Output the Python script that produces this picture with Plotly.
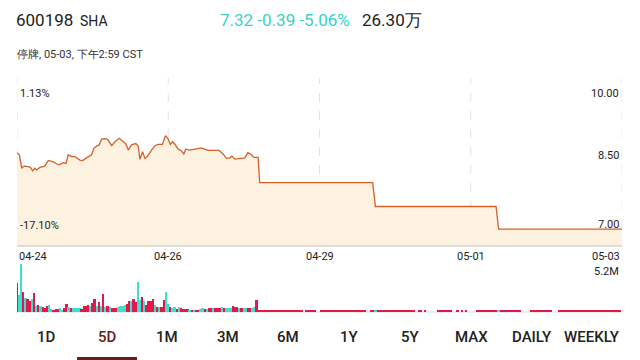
import plotly.graph_objects as go

# ---------------- data ----------------
# x positions are 5-minute bar indices; tick labels every 70 bars
tick_vals = [0, 70, 140, 210, 280]
tick_text = ["04-24", "04-26", "04-29", "05-01", "05-03"]

# intraday price line (active trading part)
line_x = [0, 1.1, 2.2, 3.2, 5.2, 6.3, 7.2, 8.2, 9.1, 10.6, 12.9, 14.5, 16.8, 18.0, 19.6,
          21.4, 22.7, 23.7, 25.3, 26.8, 29.1, 30.4, 32.5, 34.5, 35.6, 36.8, 38.1, 39.1,
          41.1, 42.2, 43.8, 45.3, 47.3, 48.8, 50.4, 51.5, 53.0, 55.0, 56.1, 56.9, 58.1,
          59.2, 60.3, 62.3, 63.8, 65.3, 67.3, 68.7, 70.0, 71.0, 72.0, 73.0, 74.6, 76.1,
          77.2, 78.1, 80.0, 82.3, 84.3, 85.4, 86.9, 88.4, 90.8, 93.5, 95.4, 96.9, 98.5,
          99.5, 100.8, 103.1, 105.4, 106.9, 108.5, 109.6, 111.6]
line_p = [8.65, 8.60, 8.29, 8.34, 8.33, 8.31, 8.23, 8.29, 8.25, 8.31, 8.34, 8.47, 8.44, 8.40, 8.37,
          8.42, 8.40, 8.60, 8.56, 8.56, 8.48, 8.47, 8.54, 8.60, 8.75, 8.80, 8.83, 8.96,
          8.97, 8.94, 8.81, 8.90, 8.98, 8.92, 8.85, 8.71, 8.83, 8.86, 8.80, 8.50, 8.67,
          8.52, 8.56, 8.71, 8.81, 8.84, 8.84, 9.04, 8.96, 8.84, 8.90, 8.85, 8.73, 8.69,
          8.62, 8.73, 8.71, 8.73, 8.74, 8.76, 8.73, 8.70, 8.70, 8.70, 8.62, 8.52, 8.53,
          8.57, 8.50, 8.52, 8.53, 8.65, 8.60, 8.54, 8.54]
# suspended / stepped part
step_x = [112.3, 164.6, 165.9, 221.7, 222.9, 280]
step_p = [7.96, 7.96, 7.41, 7.41, 6.89, 6.89]

# volume (millions) for active bars, index 0..111, and side (t=teal, r=red)
vol_active = [2.9, 1.7, 4.8, 2.0, 1.4, 1.3, 1.1, 1.3, 1.9, 0.6, 0.7, 0.6, 0.5, 0.45, 0.6, 0.7,
              0.35, 0.25, 0.35, 0.35, 0.4, 0.25, 0.4, 0.85,
              0.55, 0.45, 0.4, 0.4, 0.4, 0.4, 0.35, 0.6, 0.6, 0.7, 0.6, 0.9, 1.3, 0.6, 1.0, 0.6,
              1.8,
              0.55, 0.6, 0.5, 0.45, 0.4, 0.4, 0.55, 0.6, 0.6, 0.7, 0.85, 1.1, 1.1, 1.3, 1.0,
              3.0,
              1.2, 1.5, 1.1, 0.7, 1.1, 1.1, 1.3, 0.7, 0.55, 0.5, 0.5, 1.2,
              2.0,
              0.8, 0.5, 0.4, 0.5, 0.35, 0.5, 0.4, 0.3, 0.3, 0.3, 0.2, 0.2, 0.2, 0.2, 0.15, 0.3,
              0.4, 0.35, 0.35, 0.4, 0.4, 0.4, 0.4, 0.4, 0.4, 0.5, 0.4, 0.45, 0.4, 0.45, 0.6,
              0.5, 0.5, 0.4, 0.4, 0.4, 0.45, 0.4, 0.4, 0.4, 0.55,
              1.2]
vol_side = ("rttrtrrtrtrtrrrt" "trrrttrr"
            "trttttrrrrtrrtrt"
            "r"
            "trtrrrttttrrtrr"
            "t"
            "trtrrrrtrtrr"
            "t"
            "trttrtrrrrtrtrrttrtrrtrrrtrtttrrrtrttrrtt"
            "r")
# tiny volume during suspension: runs of bar indices that show a dot
tail_runs = [(112, 132), (134, 138), (141, 161), (164, 165), (167, 184), (186, 187), (189, 189),
             (195, 201), (204, 204), (206, 206), (208, 208), (213, 222), (224, 233),
             (238, 247), (251, 279)]
tail_teal = [166, 223]
tail_vol = 0.12

TEAL = "#3ddfd2"
RED = "#e3184a"
LINE = "#d65f2c"
FILL = "#fdf2df"
DARK = "#222222"

# ---------------- build ----------------
W, H = 640, 360
def ydom(top_px, bot_px):
    return [(H - bot_px) / H, (H - top_px) / H]

vx, vy, vc = [], [], []
for i, (v, s) in enumerate(zip(vol_active, vol_side)):
    vx.append(i); vy.append(v); vc.append(TEAL if s == "t" else RED)
for a, b in tail_runs:
    for i in range(a, b + 1):
        vx.append(i); vy.append(tail_vol); vc.append(RED)
for i in tail_teal:
    vx.append(i); vy.append(tail_vol); vc.append(TEAL)

fig = go.Figure()
fig.add_trace(go.Scatter(x=line_x + step_x, y=line_p + step_p, mode="lines",
                         line=dict(color=LINE, width=1.3, shape="linear"),
                         fill="tozeroy", fillcolor=FILL, hoverinfo="skip",
                         xaxis="x", yaxis="y"))
fig.add_trace(go.Bar(x=vx, y=vy, marker=dict(color=vc, line=dict(width=0)), width=0.8,
                     xaxis="x2", yaxis="y2", hoverinfo="skip"))

xdom = [17 / W, 622 / W]
fig.update_layout(
    width=W, height=H, margin=dict(l=0, r=0, t=0, b=0),
    paper_bgcolor="white", plot_bgcolor="rgba(0,0,0,0)", showlegend=False,
    font=dict(family="Roboto", color=DARK),
    xaxis=dict(domain=xdom, range=[0, 280], showticklabels=False, showgrid=False,
               zeroline=False, showline=False, fixedrange=True),
    yaxis=dict(domain=ydom(78, 246), range=[6.5, 10.369], showticklabels=False,
               showgrid=False, zeroline=False, showline=False),
    xaxis2=dict(domain=xdom, range=[0, 280], showticklabels=False, showgrid=False,
                zeroline=False, showline=False, anchor="y2"),
    yaxis2=dict(domain=ydom(262, 312), range=[0, 5.0], showticklabels=False,
                showgrid=False, zeroline=False, showline=False, anchor="x2"),
    bargap=0,
)

shapes = []
for tv in tick_vals:
    shapes.append(dict(type="line", xref="x", yref="paper", x0=tv, x1=tv,
                       y0=ydom(78, 246)[0], y1=ydom(78, 246)[1],
                       line=dict(color="#e8e2da", width=1, dash="dash"), layer="below"))
shapes.append(dict(type="line", xref="paper", yref="paper", x0=xdom[0], x1=xdom[1],
                   y0=(H - 246) / H, y1=(H - 246) / H, line=dict(color="#dcdcdc", width=2)))
shapes.append(dict(type="line", xref="paper", yref="paper", x0=xdom[0], x1=xdom[1],
                   y0=(H - 312) / H, y1=(H - 312) / H, line=dict(color="#e6e6e6", width=1.5),
                   layer="below"))
# tab underline
shapes.append(dict(type="line", xref="paper", yref="paper", x0=77 / W, x1=137 / W,
                   y0=1.5 / H, y1=1.5 / H, line=dict(color="#6b1c1c", width=3)))
fig.update_layout(shapes=shapes)

ann = []
def txt(x, y, s, size, color=DARK, xanchor="left", yanchor="middle", weight=None):
    f = dict(size=size, color=color, family="Roboto")
    if weight:
        f["weight"] = weight
    ann.append(dict(x=x / W, y=(H - y) / H, xref="paper", yref="paper", text=s, showarrow=False,
                    xanchor=xanchor, yanchor=yanchor, font=f))

# header
txt(14, 20, "600198", 17)
txt(78, 21, "SHA", 14)
txt(218, 20, "7.32 -0.39 -5.06%", 17, color="#36d3c6")
txt(360, 20, "26.30万", 17)
txt(15, 54, "停牌, 05-03, 下午2:59 CST", 11, color="#333333")

# price labels
txt(18, 94, "1.13%", 11)
txt(18, 225, "-17.10%", 11)
txt(621, 94, "10.00", 11, xanchor="right")
txt(621, 155, "8.50", 11, xanchor="right")
txt(621, 224, "7.00", 11, xanchor="right")
txt(621, 271, "5.2M", 11, xanchor="right")

# date labels under the chart
for tv, tt in zip(tick_vals, tick_text):
    xa = "left" if tv == tick_vals[0] else ("right" if tv == tick_vals[-1] else "center")
    ann.append(dict(x=tv, y=(H - 256) / H, xref="x", yref="paper", text=tt, showarrow=False,
                    xanchor=xa, yanchor="middle", font=dict(size=11, color=DARK, family="Roboto")))

# range tabs
tabs = ["1D", "5D", "1M", "3M", "6M", "1Y", "5Y", "MAX", "DAILY", "WEEKLY"]
tab_cx = [46, 107, 167, 228, 288, 349, 410, 471, 532, 592]
for t, cx in zip(tabs, tab_cx):
    txt(cx, 337, t, 15, color=("#6b1c1c" if t == "5D" else DARK), xanchor="center", weight=500)

fig.update_layout(annotations=ann)
fig.write_html("out.html")
